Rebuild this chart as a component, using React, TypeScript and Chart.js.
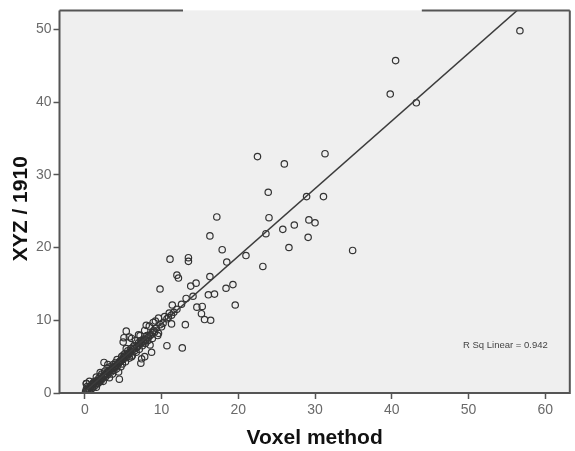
import React, { useEffect, useRef } from 'react';
import { Chart, registerables } from 'chart.js';

Chart.register(...registerables);

// Voxel method (x) against XYZ / 1910 (y)
const voxelValues = [
  56.7, 40.5, 39.8, 43.2, 31.3, 26.0, 22.5, 28.9, 31.1, 23.9,
  17.2, 24.0, 29.2, 30.0, 27.3, 25.8, 23.6, 16.3, 29.1, 26.6,
  34.9, 17.9, 11.1, 13.5, 13.5, 18.5, 21.0, 23.2, 12.0, 12.2,
  16.3, 9.8, 13.8, 14.5, 18.4, 19.3, 13.2, 14.1, 16.1, 16.9,
  11.4, 12.6, 14.6, 15.3, 19.6, 15.2, 15.6, 16.4, 13.1, 10.7,
  12.7, 11.3, 9.6, 8.9, 8.4, 5.4, 5.1, 5.0, 6.1, 7.2,
  7.8, 8.3, 8.5, 10.0, 10.7, 11.3, 8.7, 7.4, 6.1, 5.0,
  4.6, 6.3, 6.7, 7.6, 5.4, 2.5, 7.3, 4.5, 7.8, 0.2,
  0.1, 0.2, 0.3, 0.2, 0.4, 0.5, 0.6, 0.7, 0.8, 0.9,
  1.0, 1.1, 1.2, 1.3, 1.4, 1.5, 1.6, 1.7, 1.8, 1.9,
  2.0, 2.1, 2.2, 2.3, 2.4, 2.5, 2.6, 2.7, 2.8, 2.9,
  3.0, 3.1, 3.2, 3.3, 3.4, 3.5, 3.6, 3.7, 3.8, 3.9,
  4.0, 4.1, 4.2, 4.3, 4.4, 4.6, 4.7, 4.8, 4.9, 5.0,
  5.2, 5.3, 5.5, 5.6, 5.8, 5.9, 6.0, 6.2, 6.4, 6.5,
  6.8, 7.0, 7.1, 7.3, 7.5, 7.7, 7.9, 8.1, 8.2, 8.6,
  8.8, 9.0, 9.3, 9.5, 9.8, 10.2, 10.4, 10.9, 11.0, 11.6,
  12.0, 0.3, 0.5, 0.8, 1.0, 1.2, 1.4, 1.6, 1.8, 2.0,
  2.2, 2.4, 2.6, 2.8, 3.0, 3.2, 3.4, 3.6, 3.8, 4.0,
  4.2, 4.4, 4.6, 4.8, 5.0, 5.2, 5.4, 5.6, 5.8, 6.0,
  6.2, 6.5, 6.8, 7.0, 7.3, 7.6, 7.9, 8.2, 8.5, 8.8,
  9.1, 1.5, 2.0, 3.0, 0.6, 5.8, 6.6, 7.0, 8.0, 9.2,
  9.6,
];

const xyzValues = [
  49.8, 45.7, 41.1, 39.9, 32.9, 31.5, 32.5, 27.0, 27.0, 27.6,
  24.2, 24.1, 23.8, 23.4, 23.1, 22.5, 21.9, 21.6, 21.4, 20.0,
  19.6, 19.7, 18.4, 18.6, 18.1, 18.0, 18.9, 17.4, 16.2, 15.8,
  16.0, 14.3, 14.7, 15.1, 14.4, 14.9, 13.0, 13.3, 13.5, 13.6,
  12.1, 12.2, 11.8, 11.9, 12.1, 10.9, 10.1, 10.0, 9.4, 6.5,
  6.2, 9.5, 8.2, 9.7, 9.2, 8.5, 7.6, 7.0, 7.5, 7.9,
  8.6, 7.7, 6.6, 9.1, 10.2, 10.7, 5.6, 4.7, 5.0, 5.2,
  4.3, 6.3, 5.6, 7.0, 6.1, 4.2, 4.1, 1.9, 5.0, 1.3,
  0.2, 0.5, 0.9, 1.3, 0.3, 0.6, 0.2, 0.9, 0.5, 1.1,
  0.7, 1.4, 0.9, 1.6, 1.1, 0.8, 1.7, 1.3, 2.0, 1.5,
  2.3, 1.7, 2.6, 2.0, 1.6, 2.4, 3.0, 2.2, 2.7, 3.4,
  2.5, 3.0, 2.1, 3.6, 2.9, 3.3, 2.6, 3.9, 3.1, 3.6,
  4.2, 3.3, 4.6, 3.8, 2.9, 4.3, 3.6, 5.0, 4.0, 4.6,
  5.4, 4.3, 5.0, 5.8, 4.8, 5.4, 6.1, 5.2, 6.5, 5.8,
  6.4, 6.9, 6.0, 7.2, 6.5, 7.4, 6.8, 7.9, 7.2, 8.0,
  7.5, 8.6, 8.9, 7.9, 9.4, 9.6, 10.5, 10.4, 11.0, 11.1,
  11.5, 0.4, 0.9, 0.8, 1.2, 1.3, 1.5, 1.3, 1.6, 1.9,
  2.1, 2.3, 2.4, 2.5, 2.9, 3.1, 3.2, 3.5, 3.4, 3.7,
  4.0, 4.1, 4.4, 4.5, 4.8, 4.9, 5.2, 5.3, 5.6, 5.7,
  5.9, 6.1, 6.3, 6.6, 6.8, 7.1, 7.3, 7.6, 7.9, 8.3,
  8.4, 2.2, 2.8, 3.9, 1.6, 7.7, 7.2, 8.0, 9.3, 9.9,
  10.3,
];

// fit line
const fitSlope = 0.93;
const fitIntercept = 0.2;
const rSquared = '0.942';

const xTitle = 'Voxel method';
const yTitle = 'XYZ / 1910';

const xMin = -3.3;
const xMax = 63.2;
const yMin = 0;
const yMax = 52.6;

const axisGrey = '#555555';

const plotDecor = {
  id: 'plotDecor',
  beforeDraw(chart: any) {
    const { ctx, chartArea: a } = chart;
    ctx.save();
    ctx.fillStyle = '#efefef';
    ctx.fillRect(a.left, a.top, a.right - a.left, a.bottom - a.top);
    ctx.restore();
  },
  afterDraw(chart: any) {
    const { ctx, chartArea: a } = chart;
    const w = a.right - a.left;
    ctx.save();
    ctx.strokeStyle = axisGrey;
    ctx.lineWidth = 2;
    ctx.beginPath();
    // left + bottom + right
    ctx.moveTo(a.left, a.top);
    ctx.lineTo(a.left, a.bottom);
    ctx.lineTo(a.right, a.bottom);
    ctx.lineTo(a.right, a.top);
    // top border has a gap in the middle
    ctx.moveTo(a.left, a.top);
    ctx.lineTo(a.left + w * 0.242, a.top);
    ctx.moveTo(a.left + w * 0.71, a.top);
    ctx.lineTo(a.right, a.top);
    ctx.stroke();

    ctx.fillStyle = '#111';
    ctx.font = 'bold 21px "Liberation Sans", Arial, sans-serif';
    ctx.textAlign = 'center';
    ctx.textBaseline = 'middle';
    ctx.fillText(xTitle, (a.left + a.right) / 2, 438);

    ctx.save();
    ctx.translate(21, (a.top + a.bottom) / 2 + 7);
    ctx.rotate(-Math.PI / 2);
    ctx.fillText(yTitle, 0, 0);
    ctx.restore();

    ctx.fillStyle = '#444';
    ctx.font = '9.5px "Liberation Sans", Arial, sans-serif';
    ctx.textAlign = 'right';
    ctx.fillText('R Sq Linear = ' + rSquared, a.right - 22, a.bottom - 48);
    ctx.restore();
  },
};

const App = (): JSX.Element => {
  const canvasRef = useRef<HTMLCanvasElement>(null);
  const chartRef = useRef<Chart | null>(null);

  useEffect(() => {
    document.body.style.margin = '0';
    if (!canvasRef.current) return;

    const points = voxelValues.map((x, i) => ({ x, y: xyzValues[i] }));
    const fitLine = [xMin, xMax].map((x) => ({ x, y: fitIntercept + fitSlope * x }));

    const tickFont = { family: "'Liberation Sans', Arial, sans-serif", size: 14 };

    chartRef.current = new Chart(canvasRef.current, {
      type: 'scatter',
      data: {
        datasets: [
          {
            label: 'fit',
            data: fitLine,
            showLine: true,
            borderColor: '#3c3c3c',
            borderWidth: 1.5,
            pointRadius: 0,
          },
          {
            label: 'cases',
            data: points,
            pointRadius: 3.2,
            pointBorderWidth: 1.2,
            pointBackgroundColor: 'rgba(0,0,0,0)',
            pointBorderColor: '#333333',
          },
        ],
      },
      options: {
        animation: false,
        responsive: true,
        maintainAspectRatio: false,
        layout: { padding: { left: 0, top: 8, right: 5, bottom: 0 } },
        plugins: {
          legend: { display: false },
          tooltip: { enabled: false },
        },
        scales: {
          x: {
            type: 'linear',
            min: xMin,
            max: xMax,
            border: { display: false },
            grid: {
              drawOnChartArea: false,
              drawTicks: true,
              tickLength: 6,
              tickColor: axisGrey,
              tickWidth: 1.5,
            },
            ticks: {
              stepSize: 10,
              includeBounds: false,
              color: '#6a6a6a',
              font: tickFont,
              padding: 3,
              maxRotation: 0,
            },
            afterFit: (scale: any) => {
              scale.height = 58;
            },
          },
          y: {
            type: 'linear',
            min: yMin,
            max: yMax,
            border: { display: false },
            grid: {
              drawOnChartArea: false,
              drawTicks: true,
              tickLength: 6,
              tickColor: axisGrey,
              tickWidth: 1.5,
            },
            ticks: {
              stepSize: 10,
              includeBounds: false,
              color: '#6a6a6a',
              font: tickFont,
              padding: 2,
            },
            afterFit: (scale: any) => {
              scale.width = 59.5;
            },
          },
        },
      },
      plugins: [plotDecor],
    });

    return () => {
      if (chartRef.current) {
        chartRef.current.destroy();
        chartRef.current = null;
      }
    };
  }, []);

  return (
    <div style={{ position: 'relative', width: '575px', height: '451px', background: '#fff' }}>
      <canvas ref={canvasRef} role="img" aria-label="Voxel method vs XYZ / 1910 scatter" />
    </div>
  );
};

export default App;
